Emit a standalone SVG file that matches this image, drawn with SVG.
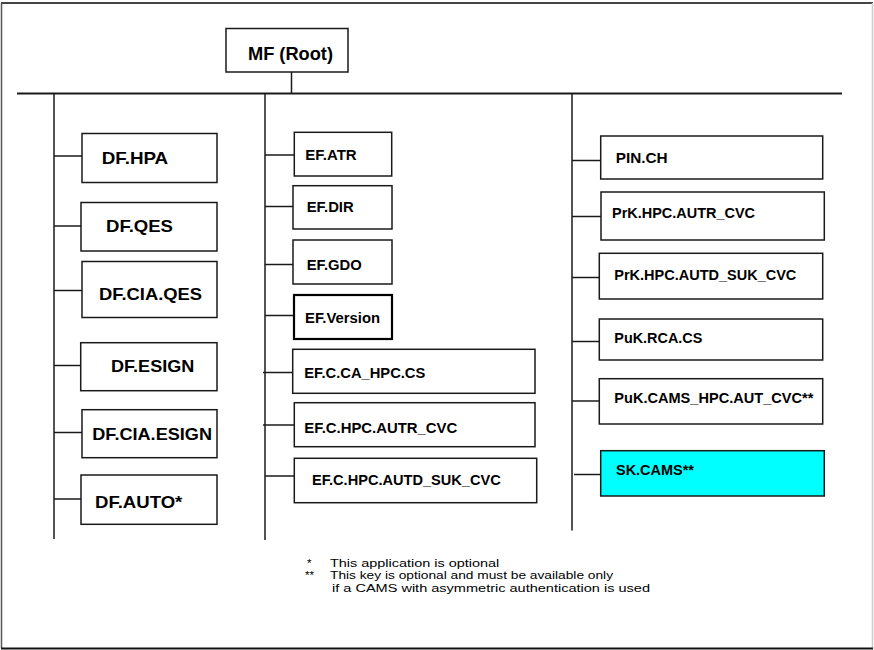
<svg xmlns="http://www.w3.org/2000/svg" width="874" height="650" viewBox="0 0 874 650">
  <style>
    .box { fill: #ffffff; stroke: #1a1a1a; stroke-width: 1.5; }
    .box-strong { fill: #ffffff; stroke: #000000; stroke-width: 2.2; }
    .box-key { fill: #00ffff; stroke: #1a1a1a; stroke-width: 1.5; }
    .wire { stroke: #1a1a1a; stroke-width: 1.5; fill: none; }
    .bus { stroke: #1a1a1a; stroke-width: 2; fill: none; }
    .t { font-family: "Liberation Sans", Arial, sans-serif; font-weight: bold; fill: #000000; }
    .root { font-size: 18px; }
    .df { font-size: 16.5px; }
    .ef { font-size: 14px; }
    .note { font-family: "Liberation Sans", Arial, sans-serif; font-size: 11.6px; fill: #000000; }
  </style>

  <!-- page frame -->
  <rect x="0" y="0" width="874" height="650" fill="#ffffff"/>
  <line x1="1" y1="3" x2="873" y2="3" stroke="#444444" stroke-width="2"/>
  <line x1="1.5" y1="3" x2="1.5" y2="648" stroke="#555555" stroke-width="1.5"/>
  <line x1="872.5" y1="3" x2="872.5" y2="648" stroke="#cccccc" stroke-width="1.5"/>
  <line x1="1" y1="648.5" x2="873" y2="648.5" stroke="#111111" stroke-width="2"/>

  <!-- tree connectors -->
  <g id="connectors">
    <line class="wire" x1="291.5" y1="72" x2="291.5" y2="93.5"/>
    <line class="bus" x1="17" y1="93.5" x2="842" y2="93.5"/>
    <!-- DF branch -->
    <line class="wire" x1="54" y1="93.5" x2="54" y2="539"/>
    <line class="wire" x1="54" y1="156" x2="82" y2="156"/>
    <line class="wire" x1="54" y1="226" x2="81" y2="226"/>
    <line class="wire" x1="54" y1="290.5" x2="82" y2="290.5"/>
    <line class="wire" x1="54" y1="365.5" x2="83" y2="365.5"/>
    <line class="wire" x1="54" y1="432.5" x2="82" y2="432.5"/>
    <line class="wire" x1="54" y1="499" x2="81" y2="499"/>
    <!-- EF branch -->
    <line class="wire" x1="265" y1="93.5" x2="265" y2="540"/>
    <line class="wire" x1="265" y1="155" x2="294" y2="155"/>
    <line class="wire" x1="265" y1="206.5" x2="293" y2="206.5"/>
    <line class="wire" x1="265" y1="264.5" x2="294" y2="264.5"/>
    <line class="wire" x1="265" y1="315.5" x2="294" y2="315.5"/>
    <line class="wire" x1="263" y1="372.5" x2="293" y2="372.5"/>
    <line class="wire" x1="263" y1="425" x2="294" y2="425"/>
    <line class="wire" x1="265" y1="476" x2="294" y2="476"/>
    <!-- key branch -->
    <line class="wire" x1="572" y1="93.5" x2="572" y2="530.5"/>
    <line class="wire" x1="572" y1="160.5" x2="601" y2="160.5"/>
    <line class="wire" x1="572" y1="216.5" x2="601" y2="216.5"/>
    <line class="wire" x1="572" y1="277.5" x2="601.5" y2="277.5"/>
    <line class="wire" x1="572" y1="341.5" x2="601.5" y2="341.5"/>
    <line class="wire" x1="572" y1="401" x2="601.5" y2="401"/>
    <line class="wire" x1="574" y1="474.5" x2="601" y2="474.5"/>
  </g>

  <!-- master file -->
  <g id="mf-root">
    <rect class="box" x="226" y="28.5" width="122" height="43.5"/>
    <text class="t root" x="248" y="60" textLength="85" lengthAdjust="spacingAndGlyphs">MF (Root)</text>
  </g>

  <!-- dedicated files -->
  <g id="df-hpa">
    <rect class="box" x="82" y="133.5" width="135" height="49"/>
    <text class="t df" x="101.7" y="164" textLength="66.5" lengthAdjust="spacingAndGlyphs">DF.HPA</text>
  </g>
  <g id="df-qes">
    <rect class="box" x="81" y="202.5" width="136" height="48.5"/>
    <text class="t df" x="106" y="231.7" textLength="67" lengthAdjust="spacingAndGlyphs">DF.QES</text>
  </g>
  <g id="df-cia-qes">
    <rect class="box" x="82" y="261.5" width="135" height="56"/>
    <text class="t df" x="99" y="300" textLength="103" lengthAdjust="spacingAndGlyphs">DF.CIA.QES</text>
  </g>
  <g id="df-esign">
    <rect class="box" x="80.7" y="342.7" width="136.3" height="48"/>
    <text class="t df" x="111" y="371.7" textLength="83.3" lengthAdjust="spacingAndGlyphs">DF.ESIGN</text>
  </g>
  <g id="df-cia-esign">
    <rect class="box" x="82" y="409.7" width="135" height="48"/>
    <text class="t df" x="92.3" y="440" textLength="119.7" lengthAdjust="spacingAndGlyphs">DF.CIA.ESIGN</text>
  </g>
  <g id="df-auto">
    <rect class="box" x="81" y="475" width="136" height="49.3"/>
    <text class="t df" x="95" y="508.3" textLength="87.3" lengthAdjust="spacingAndGlyphs">DF.AUTO*</text>
  </g>

  <!-- elementary files -->
  <g id="ef-atr">
    <rect class="box" x="294.3" y="132.3" width="97.4" height="43.7"/>
    <text class="t ef" x="305.3" y="160" textLength="51.3" lengthAdjust="spacingAndGlyphs">EF.ATR</text>
  </g>
  <g id="ef-dir">
    <rect class="box" x="293" y="185.7" width="99" height="43.3"/>
    <text class="t ef" x="306.7" y="211.7" textLength="47" lengthAdjust="spacingAndGlyphs">EF.DIR</text>
  </g>
  <g id="ef-gdo">
    <rect class="box" x="293" y="240" width="99" height="44"/>
    <text class="t ef" x="306.7" y="270" textLength="55" lengthAdjust="spacingAndGlyphs">EF.GDO</text>
  </g>
  <g id="ef-version">
    <rect class="box-strong" x="294" y="295" width="98" height="44"/>
    <text class="t ef" x="305" y="323.3" textLength="75" lengthAdjust="spacingAndGlyphs">EF.Version</text>
  </g>
  <g id="ef-c-ca-hpc-cs">
    <rect class="box" x="292.7" y="349.3" width="242.3" height="44"/>
    <text class="t ef" x="304.3" y="378.3" textLength="121" lengthAdjust="spacingAndGlyphs">EF.C.CA_HPC.CS</text>
  </g>
  <g id="ef-c-hpc-autr-cvc">
    <rect class="box" x="294.3" y="402.7" width="240.7" height="44"/>
    <text class="t ef" x="304.3" y="433.3" textLength="153" lengthAdjust="spacingAndGlyphs">EF.C.HPC.AUTR_CVC</text>
  </g>
  <g id="ef-c-hpc-autd-suk-cvc">
    <rect class="box" x="294.3" y="458.3" width="242.4" height="44.4"/>
    <text class="t ef" x="312" y="485" textLength="188.7" lengthAdjust="spacingAndGlyphs">EF.C.HPC.AUTD_SUK_CVC</text>
  </g>

  <!-- keys and PIN -->
  <g id="pin-ch">
    <rect class="box" x="600.7" y="136" width="222" height="43"/>
    <text class="t ef" x="615.7" y="163.3" textLength="52" lengthAdjust="spacingAndGlyphs">PIN.CH</text>
  </g>
  <g id="prk-hpc-autr-cvc">
    <rect class="box" x="601" y="192" width="223.3" height="48"/>
    <text class="t ef" x="612" y="218.3" textLength="143" lengthAdjust="spacingAndGlyphs">PrK.HPC.AUTR_CVC</text>
  </g>
  <g id="prk-hpc-autd-suk-cvc">
    <rect class="box" x="599.3" y="253.3" width="223.4" height="45.7"/>
    <text class="t ef" x="614.3" y="280" textLength="182" lengthAdjust="spacingAndGlyphs">PrK.HPC.AUTD_SUK_CVC</text>
  </g>
  <g id="puk-rca-cs">
    <rect class="box" x="599.3" y="319" width="223.4" height="41"/>
    <text class="t ef" x="614.3" y="343.3" textLength="88" lengthAdjust="spacingAndGlyphs">PuK.RCA.CS</text>
  </g>
  <g id="puk-cams-hpc-aut-cvc">
    <rect class="box" x="599.3" y="378.7" width="223.4" height="45.3"/>
    <text class="t ef" x="614.3" y="403.3" textLength="199" lengthAdjust="spacingAndGlyphs">PuK.CAMS_HPC.AUT_CVC**</text>
  </g>
  <g id="sk-cams">
    <rect class="box-key" x="600.7" y="450.7" width="223.6" height="45.3"/>
    <text class="t ef" x="616" y="475" textLength="78" lengthAdjust="spacingAndGlyphs">SK.CAMS**</text>
  </g>

  <!-- footnotes -->
  <g id="notes">
    <text class="note" x="307" y="566.7">*</text>
    <text class="note" x="330" y="566.7" textLength="169.3" lengthAdjust="spacingAndGlyphs">This application is optional</text>
    <text class="note" x="305" y="579.3">**</text>
    <text class="note" x="330" y="579.3" textLength="283" lengthAdjust="spacingAndGlyphs">This key is optional and must be available only</text>
    <text class="note" x="332" y="591.7" textLength="318" lengthAdjust="spacingAndGlyphs">if a CAMS with asymmetric authentication is used</text>
  </g>
</svg>
